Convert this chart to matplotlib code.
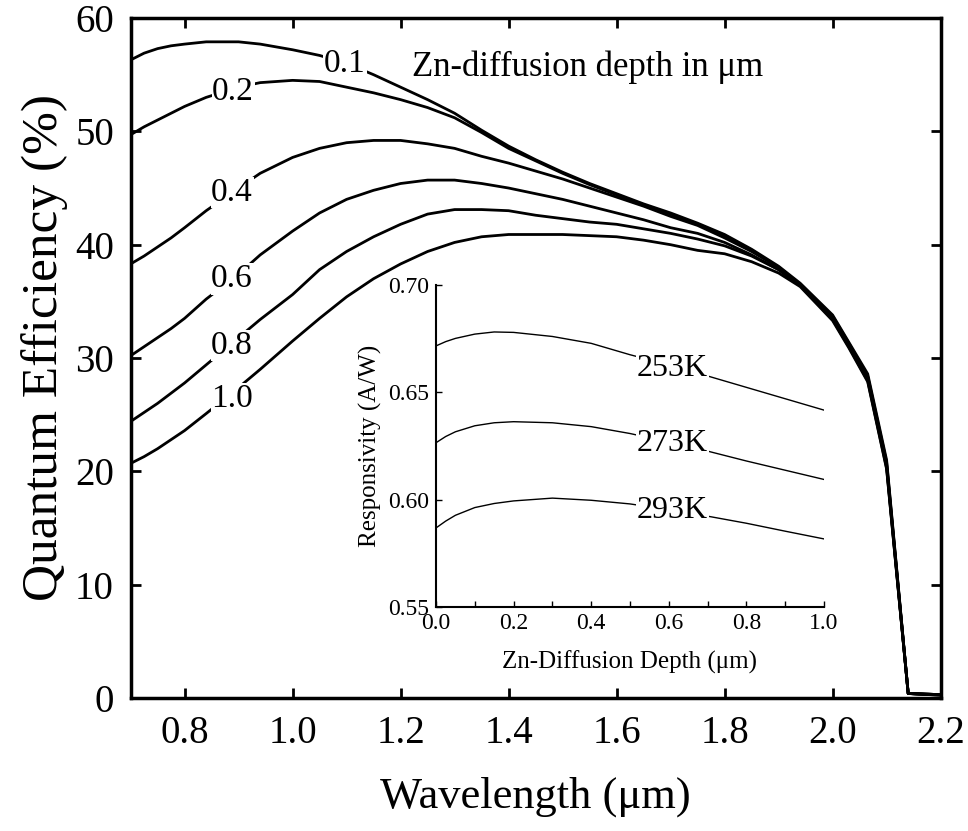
import numpy as np
import matplotlib.pyplot as plt

plt.rcParams['font.family'] = ['Liberation Serif', 'DejaVu Serif']

# main plot: quantum efficiency vs wavelength for several Zn-diffusion depths
depths = ['0.1', '0.2', '0.4', '0.6', '0.8', '1.0']
wl = [0.70, 0.725, 0.75, 0.775, 0.80, 0.84, 0.90, 0.94, 1.00, 1.05, 1.10, 1.15,
      1.20, 1.25, 1.30, 1.35, 1.40, 1.45, 1.50, 1.55, 1.60, 1.65, 1.70, 1.75,
      1.80, 1.85, 1.90, 1.94, 2.00, 2.03, 2.065, 2.10, 2.14, 2.20]
qe_01 = [56.3, 56.9, 57.3, 57.55, 57.7, 57.9, 57.9, 57.7, 57.2, 56.7, 56.0, 55.0,
         53.9, 52.8, 51.6, 50.1, 48.7, 47.5, 46.4, 45.4, 44.5, 43.6, 42.8, 41.9,
         40.9, 39.6, 38.1, 36.6, 33.8, 31.4, 28.6, 21.0, 0.4, 0.25]
qe_02 = [49.7, 50.4, 51.0, 51.6, 52.2, 53.0, 53.9, 54.3, 54.5, 54.4, 53.9, 53.4,
         52.8, 52.1, 51.2, 49.9, 48.5, 47.4, 46.3, 45.3, 44.4, 43.5, 42.7, 41.8,
         40.8, 39.5, 38.0, 36.5, 33.7, 31.3, 28.4, 20.8, 0.4, 0.25]
qe_04 = [38.3, 39.0, 39.8, 40.6, 41.5, 43.0, 45.0, 46.3, 47.7, 48.5, 49.0, 49.2,
         49.2, 48.9, 48.5, 47.8, 47.2, 46.5, 45.8, 45.0, 44.2, 43.4, 42.5, 41.7,
         40.6, 39.4, 38.0, 36.5, 33.6, 31.2, 28.3, 20.6, 0.4, 0.3]
qe_06 = [30.2, 31.0, 31.8, 32.6, 33.5, 35.2, 37.4, 39.1, 41.2, 42.8, 44.0, 44.8,
         45.4, 45.7, 45.7, 45.4, 45.0, 44.5, 44.0, 43.4, 42.8, 42.2, 41.5, 41.0,
         40.2, 39.1, 37.8, 36.4, 33.5, 31.1, 28.2, 20.5, 0.4, 0.3]
qe_08 = [24.4, 25.2, 26.0, 26.9, 27.8, 29.4, 31.8, 33.4, 35.6, 37.8, 39.4, 40.7,
         41.8, 42.7, 43.1, 43.1, 43.0, 42.6, 42.3, 42.0, 41.8, 41.4, 41.0, 40.5,
         39.9, 39.0, 37.8, 36.4, 33.4, 31.0, 28.0, 20.3, 0.4, 0.3]
qe_10 = [20.7, 21.3, 22.0, 22.8, 23.6, 25.1, 27.4, 29.0, 31.5, 33.5, 35.4, 37.0,
         38.3, 39.4, 40.2, 40.7, 40.9, 40.9, 40.9, 40.8, 40.7, 40.4, 40.0, 39.5,
         39.2, 38.5, 37.5, 36.3, 33.3, 30.9, 27.9, 20.2, 0.4, 0.3]
qe_all = [qe_01, qe_02, qe_04, qe_06, qe_08, qe_10]
label_pos = [(1.097, 56.0), (0.89, 53.5), (0.888, 44.6),
             (0.888, 37.0), (0.888, 31.1), (0.888, 26.4)]

# inset: responsivity vs Zn-diffusion depth at three temperatures
depth = [0.0, 0.025, 0.05, 0.1, 0.15, 0.2, 0.3, 0.4, 0.5, 0.6, 0.7, 0.8, 0.9, 1.0]
temps = ['253K', '273K', '293K']
resp_253 = [0.6716, 0.6736, 0.6751, 0.6771, 0.6781, 0.6779, 0.6760, 0.6728,
            0.6675, 0.6628, 0.6576, 0.6523, 0.6470, 0.6417]
resp_273 = [0.6265, 0.6294, 0.6316, 0.6344, 0.6358, 0.6363, 0.6358, 0.6340,
            0.6308, 0.6268, 0.6226, 0.6180, 0.6137, 0.6094]
resp_293 = [0.5868, 0.5900, 0.5927, 0.5963, 0.5982, 0.5994, 0.6007, 0.5997,
            0.5980, 0.5953, 0.5923, 0.5890, 0.5853, 0.5817]
resp_all = [resp_253, resp_273, resp_293]
temp_label_y = [0.661, 0.626, 0.595]

fig = plt.figure(figsize=(9.68, 8.31), dpi=100)
ax = fig.add_axes([0.1349, 0.16, 0.8368, 0.8183])

for qe in qe_all:
    ax.plot(wl, qe, color='black', lw=2.0)
for d, (x, y) in zip(depths, label_pos):
    ax.text(x, y, d, fontsize=24, ha='center', va='center', zorder=5,
            bbox=dict(facecolor='white', edgecolor='none', pad=0.5))
ax.text(1.221, 55.7, 'Zn-diffusion depth in μm', fontsize=25,
        ha='left', va='center', zorder=5)

ax.set_xlim(0.7, 2.2)
ax.set_ylim(0, 60)
ax.set_xticks(np.arange(0.8, 2.21, 0.2))
ax.set_xticklabels(['0.8', '1.0', '1.2', '1.4', '1.6', '1.8', '2.0', '2.2'])
ax.set_yticks(np.arange(0, 61, 10))
ax.tick_params(direction='in', length=7, width=2, labelsize=28,
               top=True, right=True, pad=12)
ax.set_xlabel('Wavelength (μm)', fontsize=32, labelpad=18)
ax.set_ylabel('Quantum Efficiency (%)', fontsize=37)
ax.yaxis.set_label_coords(-0.077, 0.515)
for s in ax.spines.values():
    s.set_linewidth(2.5)

ins = fig.add_axes([0.4504, 0.2696, 0.4008, 0.3875])
ins.patch.set_alpha(0)
for r in resp_all:
    ins.plot(depth, r, color='black', lw=1.0)
for t, y in zip(temps, temp_label_y):
    ins.text(0.61, y, t, fontsize=23, ha='center', va='center', zorder=5,
             bbox=dict(facecolor='white', edgecolor='none', pad=0.5))
ins.set_xlim(0, 1.0)
ins.set_ylim(0.55, 0.70)
ins.set_xticks(np.arange(0, 1.01, 0.2))
ins.set_xticks(np.arange(0, 1.01, 0.1), minor=True)
ins.set_yticks([0.55, 0.60, 0.65, 0.70])
ins.set_yticklabels(['0.55', '0.60', '0.65', '0.70'])
ins.tick_params(which='both', direction='in', length=4, width=1, labelsize=17)
ins.tick_params(axis='x', pad=4)
ins.tick_params(axis='y', pad=5)
ins.set_xlabel('Zn-Diffusion Depth (μm)', fontsize=18, labelpad=12)
ins.set_ylabel('Responsivity (A/W)', fontsize=18, labelpad=4)
ins.spines['top'].set_visible(False)
ins.spines['right'].set_visible(False)
for s in ['left', 'bottom']:
    ins.spines[s].set_linewidth(1.5)

fig.savefig('out.png', dpi=100)
